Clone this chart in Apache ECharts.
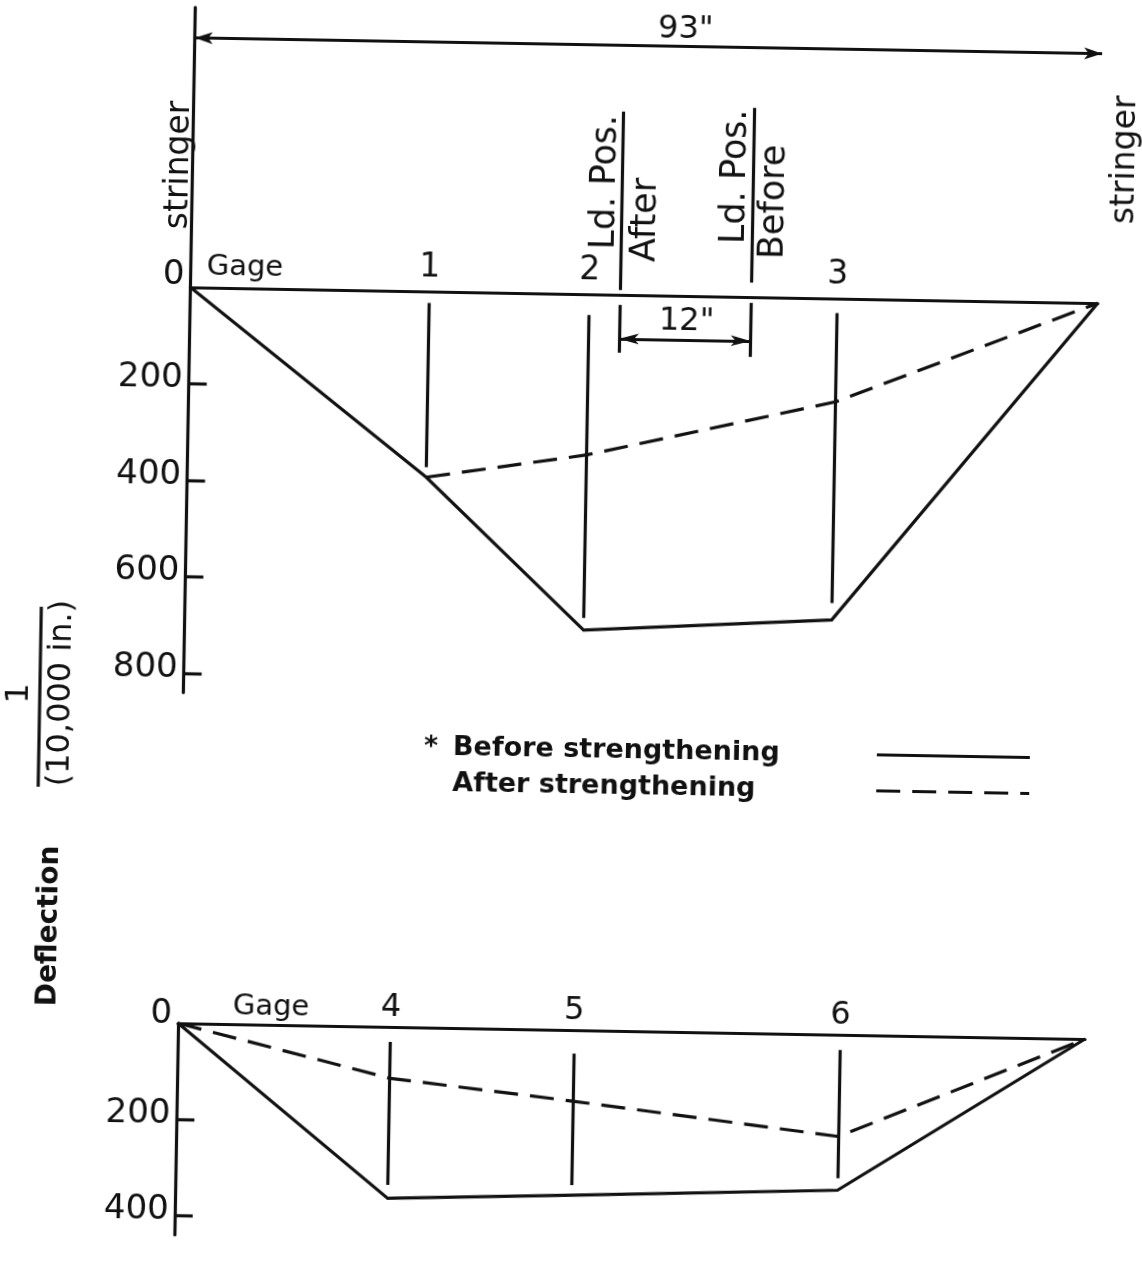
<!DOCTYPE html>
<html><head><meta charset="utf-8">
<script src="https://cdn.jsdelivr.net/npm/echarts@6/dist/echarts.min.js"></script>
<style>
html,body{margin:0;padding:0;background:#fff;overflow:hidden;width:1142px;height:1261px;}
#chart{position:absolute;left:0;top:0;width:1142px;height:1261px;transform:rotate(1deg);transform-origin:571px 630px;}
</style></head><body><div id="chart"></div>
<script>
// ---- data (inches along the 93" span, deflection in 1/10,000 in.) ----
const spanInches = 93;
const topGageNames = ['1', '2', '3'];
const topGageX = [24.5, 40.9, 66.3];
const topBefore = [385, 696, 666];
const topAfter = [385, 333, 214];
const bottomGageNames = ['4', '5', '6'];
const bottomGageX = [21.8, 40.6, 67.9];
const bottomBefore = [357, 344, 324];
const bottomAfter = [107, 148, 212];
const loadPosAfterX = 44.0;
const loadPosBeforeX = 57.5;
const loadSpacingLabel = '12"';
const topTickValues = [0, 200, 400, 600, 800];
const bottomTickValues = [0, 200, 400];
// extents of the gage marks (deflection units)
const topGageMarkFrom = [24, 43, 30];
const topGageMarkTo = [364, 671, 631];
const bottomGageMarkFrom = [31, 49, 32];
const bottomGageMarkTo = [329, 323, 299];

// ---- styling ----
const ink = '#111';
const LW = 3.2;
const DASH = [24, 12];
const FONT = 'DejaVu Sans';

const topBeforeData = [[0, 0]].concat(topGageX.map((x, i) => [x, topBefore[i]]), [[spanInches, 0]]);
const topAfterData = topGageX.map((x, i) => [x, topAfter[i]]).concat([[spanInches, 0]]);
const botBeforeData = [[0, 0]].concat(bottomGageX.map((x, i) => [x, bottomBefore[i]]), [[spanInches, 0]]);
const botAfterData = [[0, 0]].concat(bottomGageX.map((x, i) => [x, bottomAfter[i]]), [[spanInches, 0]]);

function seg(x1, y1, x2, y2, arrows) {
  const a = arrows ? { symbol: 'arrow', symbolSize: arrows } : {};
  return [Object.assign({ coord: [x1, y1] }, a), Object.assign({ coord: [x2, y2] }, a)];
}
function note(x, y, text, size, rot, weight) {
  return {
    value: [x, y],
    label: { show: true, position: 'inside', formatter: text, fontSize: size, rotate: rot || 0,
      fontFamily: FONT, fontWeight: weight || 'normal', color: ink, opacity: 1,
      textBorderWidth: 0, textShadowBlur: 0 }
  };
}

const topMarks = [
  seg(spanInches, -628, spanInches, 790),                 // right stringer line
  seg(0, -517, spanInches, -517, [9, 18]),                // 93" dimension
  seg(loadPosAfterX, -380, loadPosAfterX, -10),           // Ld. Pos. After
  seg(loadPosBeforeX, -392, loadPosBeforeX, -30),         // Ld. Pos. Before
  seg(loadPosAfterX, 21, loadPosAfterX, 120),
  seg(loadPosBeforeX, 12, loadPosBeforeX, 124),
  seg(loadPosAfterX, 91, loadPosBeforeX, 91, [8, 20])     // 12" dimension
].concat(topGageX.map((x, i) => seg(x, topGageMarkFrom[i], x, topGageMarkTo[i])));

const botMarks = [
  seg(spanInches, 0, spanInches, 456)
].concat(bottomGageX.map((x, i) => seg(x, bottomGageMarkFrom[i], x, bottomGageMarkTo[i])));

const topNotes = [
  note(50.3, -552, '93"', 32),
  note(-1.3, -253, 'stringer', 33, 90),
  note(95.6, -298, 'stringer', 33, 90),
  note(5.55, -42, 'Gage', 29),
  note(42.4, -233, 'Ld. Pos.', 35, 90),
  note(46.6, -156, 'After', 35, 90),
  note(55.7, -249, 'Ld. Pos.', 35, 90),
  note(59.7, -198, 'Before', 35, 90),
  note(50.9, 54, loadSpacingLabel, 32)
].concat(topGageX.map((x, i) => note(x, -48, topGageNames[i], 33)));

const botNotes = [
  note(9.5, -37, 'Gage', 29)
].concat(bottomGageX.map((x, i) => note(x, -40, bottomGageNames[i], 32)));

function yAxisCfg(gi, min, max, tickVals, labelVals, zeroPad) {
  const rs = { fontFamily: FONT, fontSize: 34, color: ink };
  return {
    gridIndex: gi, type: 'value', inverse: true, min: min, max: max,
    axisLine: { show: true, onZero: false, lineStyle: { color: ink, width: LW } },
    axisTick: { show: true, inside: true, length: 18, customValues: tickVals, lineStyle: { color: ink, width: LW } },
    axisLabel: {
      show: true, customValues: labelVals, margin: 6,
      formatter: v => v === 0 ? '{z|0}' : '{n|' + v + '}',
      rich: { z: Object.assign({ padding: [0, 0, zeroPad, 0] }, rs), n: Object.assign({ padding: [0, 0, 10, 0] }, rs) }
    },
    splitLine: { show: false }
  };
}
function xAxisCfg(gi) {
  return {
    gridIndex: gi, type: 'value', min: 0, max: spanInches,
    axisLine: { show: true, onZero: true, lineStyle: { color: ink, width: LW } },
    axisTick: { show: false }, axisLabel: { show: false }, splitLine: { show: false }
  };
}
const markBase = {
  silent: true, symbol: 'none', label: { show: false },
  lineStyle: { color: ink, width: LW, type: 'solid' }, emphasis: { disabled: true }, animation: false
};

const option = {
  animation: false,
  backgroundColor: 'rgba(0,0,0,0)',
  grid: [
    { left: 184.5, right: 50, top: 14.15, height: 685.15 },
    { left: 185, right: 50, top: 1030, height: 211.7 }
  ],
  xAxis: [xAxisCfg(0), xAxisCfg(1)],
  yAxis: [
    yAxisCfg(0, -580, 840, [200, 400, 600, 800], topTickValues, 24),
    yAxisCfg(1, 0, 441, [200, 400], bottomTickValues, 18)
  ],
  legend: {
    data: ['Before strengthening', 'After strengthening'],
    orient: 'vertical', align: 'right', left: 426, top: 736, padding: 0,
    itemWidth: 153, itemHeight: 16, itemGap: 9, selectedMode: false,
    itemStyle: { color: 'rgba(0,0,0,0)', borderWidth: 0, opacity: 0 },
    lineStyle: { width: 3, color: ink },
    formatter: n => n === 'Before strengthening' ? '{a|*}{b|' + n + '}' : '{a|}{b|' + n + '}',
    textStyle: {
      fontFamily: FONT, fontWeight: 'bold', fontSize: 27, color: ink,
      rich: {
        a: { width: 29, align: 'left', fontFamily: FONT, fontWeight: 'bold', fontSize: 27, color: ink },
        b: { width: 419, align: 'left', fontFamily: FONT, fontWeight: 'bold', fontSize: 27, color: ink }
      }
    }
  },
  graphic: [
    { type: 'text', x: 55, y: 935, rotation: Math.PI / 2,
      style: { text: 'Deflection', font: 'bold 28px "DejaVu Sans"', fill: ink, align: 'center', verticalAlign: 'middle' } },
    { type: 'text', x: 63, y: 702, rotation: Math.PI / 2,
      style: { text: '(10,000 in.)', font: '32px "DejaVu Sans"', fill: ink, align: 'center', verticalAlign: 'middle' } },
    { type: 'text', x: 21, y: 703, rotation: Math.PI / 2,
      style: { text: '1', font: '32px "DejaVu Sans"', fill: ink, align: 'center', verticalAlign: 'middle' } },
    { type: 'line', shape: { x1: 41, y1: 616, x2: 41, y2: 796 }, style: { stroke: ink, lineWidth: LW } }
  ],
  series: [
    { name: 'Before strengthening', type: 'line', xAxisIndex: 0, yAxisIndex: 0, data: topBeforeData,
      symbol: 'none', clip: false, silent: true, lineStyle: { color: ink, width: LW, type: 'solid', join: 'miter' },
      itemStyle: { color: ink }, markLine: Object.assign({ data: topMarks }, markBase) },
    { name: 'After strengthening', type: 'line', xAxisIndex: 0, yAxisIndex: 0, data: topAfterData,
      symbol: 'none', clip: false, silent: true, lineStyle: { color: ink, width: LW, type: DASH },
      itemStyle: { color: ink } },
    { name: 'Before strengthening', type: 'line', xAxisIndex: 1, yAxisIndex: 1, data: botBeforeData,
      symbol: 'none', clip: false, silent: true, lineStyle: { color: ink, width: LW, type: 'solid', join: 'miter' },
      itemStyle: { color: ink }, markLine: Object.assign({ data: botMarks }, markBase) },
    { name: 'After strengthening', type: 'line', xAxisIndex: 1, yAxisIndex: 1, data: botAfterData,
      symbol: 'none', clip: false, silent: true, lineStyle: { color: ink, width: LW, type: DASH },
      itemStyle: { color: ink } },
    { name: 'topNotes', type: 'scatter', xAxisIndex: 0, yAxisIndex: 0, symbolSize: 0, clip: false, silent: true,
      itemStyle: { color: ink, opacity: 1 }, data: topNotes, z: 5 },
    { name: 'botNotes', type: 'scatter', xAxisIndex: 1, yAxisIndex: 1, symbolSize: 0, clip: false, silent: true,
      itemStyle: { color: ink, opacity: 1 }, data: botNotes, z: 5 }
  ]
};
const chart = echarts.init(document.getElementById('chart'), null, { renderer: 'canvas' });
chart.setOption(option);
</script></body></html>
